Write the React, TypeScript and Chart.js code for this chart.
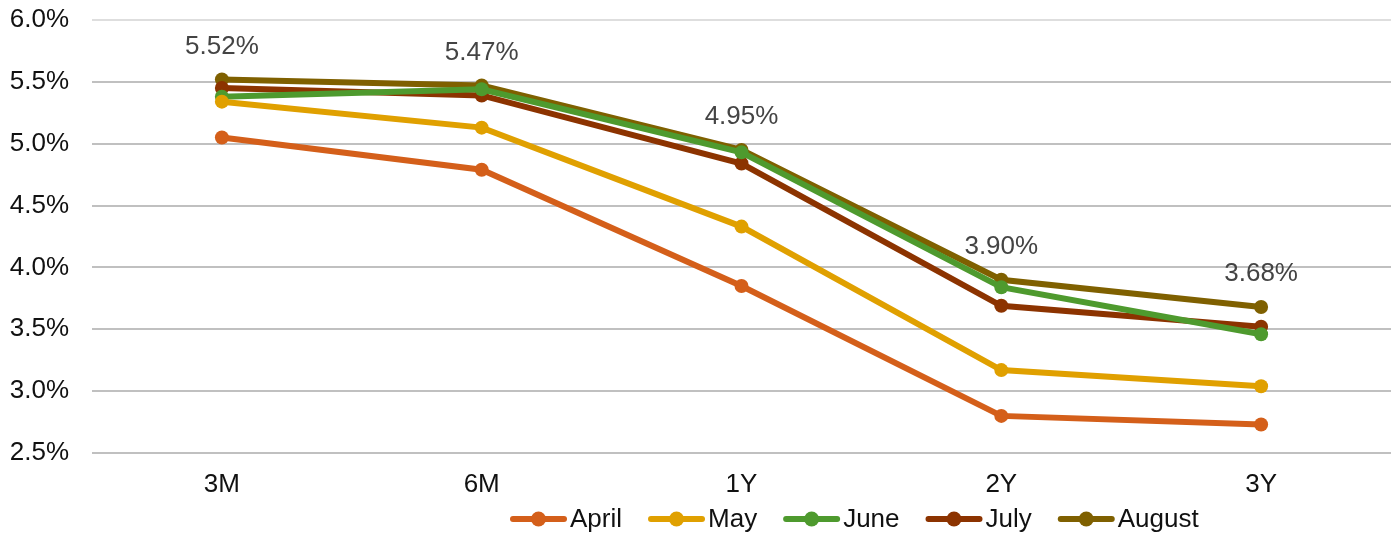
import React, { useEffect, useRef } from "react";
import { Chart, registerables } from "chart.js";

Chart.register(...registerables);

const categories = ["3M", "6M", "1Y", "2Y", "3Y"];
const seriesNames = ["April", "May", "June", "July", "August"];
const april = [5.05, 4.79, 3.85, 2.8, 2.73];
const may = [5.34, 5.13, 4.33, 3.17, 3.04];
const june = [5.38, 5.44, 4.93, 3.84, 3.46];
const july = [5.45, 5.39, 4.84, 3.69, 3.52];
const august = [5.52, 5.47, 4.95, 3.9, 3.68];
const seriesColors = ["#D45F1A", "#E0A000", "#4E9A2E", "#8C3300", "#7F6000"];
const yTickValues = [2.5, 3.0, 3.5, 4.0, 4.5, 5.0, 5.5, 6.0];

const FONT = "'Liberation Sans', Arial, sans-serif";

const valueLabelPlugin = {
  id: "valueLabels",
  afterDatasetsDraw(chart: any) {
    const ctx = chart.ctx;
    const idx = chart.data.datasets.length - 1;
    const meta = chart.getDatasetMeta(idx);
    const data = chart.data.datasets[idx].data as number[];
    ctx.save();
    ctx.font = `26px ${FONT}`;
    ctx.fillStyle = "#444444";
    ctx.textAlign = "center";
    ctx.textBaseline = "middle";
    meta.data.forEach((pt: any, i: number) => {
      ctx.fillText(data[i].toFixed(2) + "%", pt.x, pt.y - 33);
    });
    ctx.restore();
  },
};

const lineLegendPlugin = {
  id: "lineLegend",
  afterDraw(chart: any) {
    const ctx = chart.ctx;
    ctx.save();
    ctx.font = `26px ${FONT}`;
    ctx.textBaseline = "middle";
    ctx.textAlign = "left";
    let x = 510;
    const y = 519;
    chart.data.datasets.forEach((ds: any) => {
      const color = ds.borderColor;
      ctx.strokeStyle = color;
      ctx.lineWidth = 6;
      ctx.lineCap = "round";
      ctx.beginPath();
      ctx.moveTo(x + 3, y);
      ctx.lineTo(x + 54, y);
      ctx.stroke();
      ctx.fillStyle = color;
      ctx.beginPath();
      ctx.arc(x + 28.5, y, 7.5, 0, Math.PI * 2);
      ctx.fill();
      ctx.fillStyle = "#111111";
      const tx = x + 60;
      ctx.fillText(ds.label, tx, y + 1);
      x = tx + ctx.measureText(ds.label).width + 26;
    });
    ctx.restore();
  },
};

export default function App() {
  const ref = useRef<HTMLCanvasElement | null>(null);
  useEffect(() => {
    if (!ref.current) return;
    document.body.style.margin = "0";
    const series = [april, may, june, july, august];
    const chart = new Chart(ref.current, {
      type: "line",
      data: {
        labels: categories,
        datasets: series.map((d, i) => ({
          label: seriesNames[i],
          data: d,
          borderColor: seriesColors[i],
          backgroundColor: seriesColors[i],
          borderWidth: 6,
          pointRadius: 7,
          pointBorderWidth: 0,
          pointBackgroundColor: seriesColors[i],
          tension: 0,
          fill: false,
        })),
      },
      options: {
        responsive: false,
        animation: false,
        devicePixelRatio: 1,
        layout: { padding: { top: 20, right: 6, bottom: 0, left: 0 } },
        plugins: {
          legend: { display: false },
          tooltip: { enabled: false },
          title: { display: false },
        },
        scales: {
          x: {
            offset: true,
            grid: { display: false, drawTicks: false },
            border: { display: false },
            ticks: {
              color: "#111111",
              font: { family: FONT, size: 26 },
              padding: 16,
            },
            afterFit(scale: any) {
              scale.height = 87;
            },
          },
          y: {
            min: 2.5,
            max: 6.0,
            afterBuildTicks(scale: any) {
              scale.ticks = yTickValues.map((v) => ({ value: v }));
            },
            grid: {
              drawTicks: false,
              lineWidth: 2,
              color: (c: any) => (c.tick && c.tick.value === 6 ? "#dedede" : "#c0c0c0"),
            },
            border: { display: false },
            ticks: {
              color: "#111111",
              font: { family: FONT, size: 26 },
              padding: 23,
              callback: (v: any) => Number(v).toFixed(1) + "%",
            },
            afterFit(scale: any) {
              scale.width = 92;
              scale.paddingTop = 0;
              scale.paddingBottom = 0;
            },
          },
        },
      },
      plugins: [valueLabelPlugin, lineLegendPlugin],
    });
    return () => chart.destroy();
  }, []);
  return (
    <div style={{ position: "absolute", left: 0, top: 0, width: 1398, height: 540, background: "#ffffff" }}>
      <canvas ref={ref} width={1398} height={540} style={{ width: 1398, height: 540, display: "block" }} />
    </div>
  );
}
